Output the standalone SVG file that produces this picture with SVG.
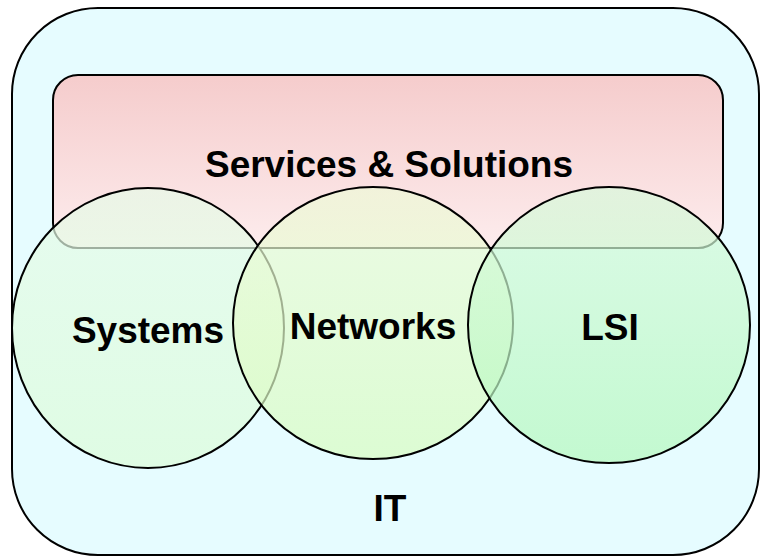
<svg xmlns="http://www.w3.org/2000/svg" width="760" height="557" viewBox="0 0 760 557">
<defs>
<linearGradient id="gPink" x1="0" y1="0" x2="0" y2="1">
<stop offset="0" stop-color="#f5cccc"/>
<stop offset="1" stop-color="#fdeced"/>
</linearGradient>
<linearGradient id="gSys" x1="0" y1="0" x2="0" y2="1">
<stop offset="0" stop-color="#e6fbe8" stop-opacity="0.7"/>
<stop offset="1" stop-color="#dcfcd8" stop-opacity="0.7"/>
</linearGradient>
<linearGradient id="gNet" x1="0" y1="0" x2="0" y2="1">
<stop offset="0" stop-color="#eefad8" stop-opacity="0.7"/>
<stop offset="1" stop-color="#d8fcc0" stop-opacity="0.7"/>
</linearGradient>
<linearGradient id="gLsi" x1="0" y1="0" x2="0" y2="1">
<stop offset="0" stop-color="#d8fadc" stop-opacity="0.7"/>
<stop offset="1" stop-color="#b4f8bc" stop-opacity="0.7"/>
</linearGradient>
</defs>
<style>
.sh{stroke:#000;stroke-width:2}
.lb{font-family:"Liberation Sans",Arial,sans-serif;font-weight:bold;font-size:37px;fill:#000;text-anchor:middle}
</style>
<g id="it">
<rect class="sh" x="12" y="8" width="747" height="547" rx="86" ry="86" fill="#e6fcff"/>
<text class="lb" x="390" y="521">IT</text>
</g>
<g id="services">
<rect class="sh" x="53" y="75" width="670" height="173" rx="25" ry="25" fill="url(#gPink)"/>
</g>
<g id="systems">
<ellipse class="sh" cx="148" cy="328" rx="136" ry="140" fill="url(#gSys)"/>
</g>
<g id="networks">
<ellipse class="sh" cx="373" cy="323" rx="140" ry="136" fill="url(#gNet)"/>
</g>
<g id="lsi">
<ellipse class="sh" cx="609" cy="325" rx="141" ry="138" fill="url(#gLsi)"/>
</g>
<g id="labels">
<text class="lb" x="389" y="177">Services &amp; Solutions</text>
<text class="lb" x="148" y="343">Systems</text>
<text class="lb" x="373" y="339">Networks</text>
<text class="lb" x="610" y="340">LSI</text>
</g>
<g id="connectors"/>
</svg>
